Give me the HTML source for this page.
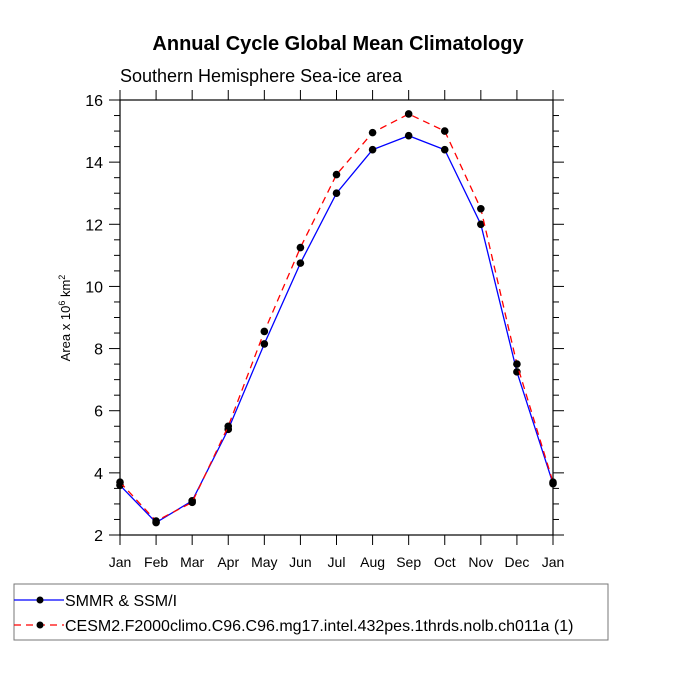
<!DOCTYPE html>
<html><head><meta charset="utf-8"><style>
body{margin:0;background:#fff}
svg{display:block;font-family:"Liberation Sans",sans-serif}
</style></head><body>
<svg width="675" height="675" id="c">
<text x="338" y="50" text-anchor="middle" font-size="20" font-weight="bold">Annual Cycle Global Mean Climatology</text>
<text x="120" y="82" font-size="18">Southern Hemisphere Sea-ice area</text>
<text transform="translate(70,318) rotate(-90)" text-anchor="middle" font-size="13">Area x 10<tspan font-size="9" dy="-5">6</tspan><tspan dy="5"> km</tspan><tspan font-size="9" dy="-5">2</tspan></text>
<rect x="120" y="100" width="433" height="435" fill="none" stroke="#000" stroke-width="1.2"/>
<g id="ticks"></g>
<g id="series"></g>
<rect x="14" y="584" width="594" height="56" fill="none" stroke="#777" stroke-width="1"/>
<g>
<line x1="14" y1="600" x2="64" y2="600" stroke="#00f" stroke-width="1.3"/>
<circle cx="40" cy="600" r="3.5"/>
<text x="65" y="606" font-size="16">SMMR &amp; SSM/I</text>
</g>
<g>
<line x1="14" y1="625" x2="64" y2="625" stroke="#f00" stroke-width="1.3" stroke-dasharray="7,5"/>
<circle cx="40" cy="625" r="3.5"/>
<text x="65" y="631" font-size="16">CESM2.F2000climo.C96.C96.mg17.intel.432pes.1thrds.nolb.ch011a (1)</text>
</g>
</svg>
<script>
const months=["Jan","Feb","Mar","Apr","May","Jun","Jul","Aug","Sep","Oct","Nov","Dec","Jan"];
const yTicks=[2,4,6,8,10,12,14,16];
const obsValues=[3.6,2.4,3.1,5.4,8.15,10.75,13.0,14.4,14.85,14.4,12.0,7.25,3.65];
const modelValues=[3.7,2.45,3.05,5.5,8.55,11.25,13.6,14.95,15.55,15.0,12.5,7.5,3.7];
const X0=120,X1=553,Y0=535,Y1=100;
const xs=i=>X0+(X1-X0)*i/12;
const ys=v=>Y0-(v-2)/14*(Y0-Y1);
const NS="http://www.w3.org/2000/svg";
function mk(t,a,p){const e=document.createElementNS(NS,t);for(const k in a)e.setAttribute(k,a[k]);p.appendChild(e);return e;}
const tg=document.getElementById('ticks');
months.forEach((m,i)=>{
  const x=xs(i);
  const t1=mk('line',{x1:x,y1:Y0,x2:x,y2:Y0+10,stroke:'#000'},tg);
  
  
  mk('line',{x1:x,y1:Y1,x2:x,y2:Y1-10,stroke:'#000'},tg);
  const tx=mk('text',{x:x,y:Y0+32,'text-anchor':'middle','font-size':14},tg);
  tx.textContent=m;
  
  
});
for(let v=2.5;v<16;v+=0.5){
  if(v%2===0)continue;
  const y=ys(v);
  mk('line',{x1:X0-6,y1:y,x2:X0,y2:y,stroke:'#000'},tg);
  mk('line',{x1:X1,y1:y,x2:X1+6,y2:y,stroke:'#000'},tg);
}
yTicks.forEach(v=>{
  const y=ys(v);
  mk('line',{x1:X0-11,y1:y,x2:X0,y2:y,stroke:'#000'},tg);
  mk('line',{x1:X1,y1:y,x2:X1+11,y2:y,stroke:'#000'},tg);
  const tx=mk('text',{x:X0-17,y:y+6,'text-anchor':'end','font-size':16},tg);
  tx.textContent=v;
  
  
});
const sg=document.getElementById('series');
function draw(vals,color,dash,name){
  const g=mk('g',{},sg);
  
  
  const pts=vals.map((v,i)=>xs(i)+','+ys(v)).join(' ');
  const a={points:pts,fill:'none',stroke:color,'stroke-width':1.3};
  if(dash)a['stroke-dasharray']=dash;
  mk('polyline',a,g);
  vals.forEach((v,i)=>{
    const c=mk('circle',{cx:xs(i),cy:ys(v),r:3.8,fill:'#000'},g);
    
    
  });
}
draw(obsValues,'#00f',null,'series-smmr');
draw(modelValues,'#f00','7,5','series-cesm2');
</script>
</body></html>
